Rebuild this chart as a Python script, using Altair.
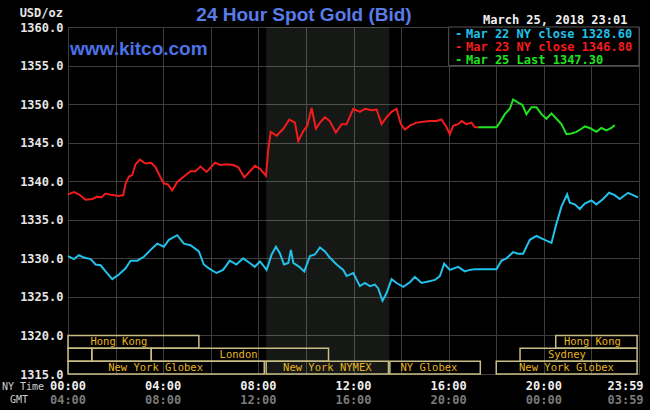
import altair as alt
import pandas as pd

# ---------------- data ----------------
cyan_hours = [0.00, 0.25, 0.46, 0.67, 0.95, 1.16, 1.37, 1.58, 1.86, 2.14, 2.42, 2.63, 2.91, 3.19, 3.47,
              3.75, 4.03, 4.24, 4.59, 4.87, 5.15, 5.50, 5.71, 5.92, 6.24, 6.52, 6.80, 7.08, 7.36, 7.64,
              7.85, 8.07, 8.35, 8.56, 8.74, 8.90, 9.08, 9.26, 9.37, 9.47, 9.72, 9.93, 10.17, 10.38, 10.59,
              10.80, 11.00, 11.29, 11.57, 11.71, 11.99, 12.27, 12.48, 12.69, 12.90, 13.04, 13.22, 13.39,
              13.60, 13.81, 14.09, 14.37, 14.58, 14.86, 15.14, 15.42, 15.63, 15.81, 16.05, 16.40, 16.68,
              16.89, 17.10, 18.01, 18.22, 18.43, 18.71, 18.92, 19.13, 19.41, 19.69, 19.97, 20.32, 20.53,
              20.74, 20.98, 21.09, 21.30, 21.51, 21.72, 22.00, 22.21, 22.49, 22.74, 22.98, 23.19, 23.54,
              23.75, 23.96]
cyan_prices = [1330.3, 1329.9, 1330.4, 1330.1, 1329.9, 1329.2, 1329.1, 1328.3, 1327.3, 1327.9, 1328.7,
               1329.7, 1329.7, 1330.2, 1331.1, 1331.9, 1331.5, 1332.4, 1333.0, 1331.9, 1331.7, 1330.9,
               1329.2, 1328.7, 1328.1, 1328.5, 1329.7, 1329.2, 1330.0, 1329.4, 1328.9, 1329.6, 1328.5,
               1330.5, 1331.5, 1330.7, 1329.2, 1329.4, 1331.1, 1329.4, 1328.9, 1328.3, 1330.3, 1330.5,
               1331.4, 1330.9, 1330.1, 1329.2, 1328.5, 1327.7, 1328.1, 1326.4, 1326.8, 1326.4, 1326.6,
               1326.1, 1324.5, 1325.5, 1327.3, 1326.8, 1326.3, 1326.9, 1327.6, 1326.8, 1327.0, 1327.2,
               1327.7, 1329.3, 1328.5, 1328.9, 1328.3, 1328.5, 1328.6, 1328.6, 1329.7, 1330.0, 1330.8,
               1330.6, 1330.6, 1332.4, 1332.9, 1332.5, 1332.0, 1334.5, 1336.7, 1338.3, 1337.2, 1337.0,
               1336.4, 1337.1, 1337.5, 1337.0, 1337.7, 1338.5, 1338.2, 1337.7, 1338.5, 1338.2, 1337.9]

red_hours = [0.00, 0.25, 0.46, 0.74, 1.02, 1.23, 1.40, 1.58, 1.86, 2.14, 2.32, 2.42, 2.56, 2.70, 2.84,
             3.02, 3.26, 3.50, 3.68, 3.89, 4.03, 4.20, 4.38, 4.59, 4.87, 5.15, 5.36, 5.57, 5.83, 6.18,
             6.39, 6.67, 6.95, 7.16, 7.41, 7.65, 7.86, 8.07, 8.32, 8.42, 8.52, 8.77, 9.05, 9.30, 9.54,
             9.68, 9.89, 10.06, 10.24, 10.42, 10.59, 10.80, 11.00, 11.26, 11.50, 11.71, 11.99, 12.27,
             12.48, 12.76, 12.97, 13.18, 13.39, 13.60, 13.81, 13.99, 14.16, 14.37, 14.65, 14.93, 15.21,
             15.49, 15.70, 15.91, 16.05, 16.19, 16.40, 16.54, 16.75, 16.96, 17.10, 17.24]
red_prices = [1338.3, 1338.6, 1338.3, 1337.6, 1337.7, 1338.0, 1337.9, 1338.4, 1338.2, 1338.1, 1338.2,
              1339.7, 1340.6, 1340.8, 1342.2, 1342.8, 1342.3, 1342.4, 1341.8, 1340.5, 1339.7, 1339.6,
              1338.8, 1339.9, 1340.6, 1341.3, 1341.3, 1341.9, 1341.2, 1342.4, 1342.1, 1342.2, 1342.1,
              1341.8, 1340.5, 1341.3, 1342.0, 1341.6, 1340.7, 1344.2, 1346.4, 1345.9, 1346.8, 1348.0,
              1347.6, 1345.2, 1346.5, 1347.2, 1349.5, 1346.8, 1347.6, 1348.3, 1347.8, 1346.3, 1347.4,
              1347.4, 1349.4, 1349.0, 1349.4, 1349.2, 1349.3, 1347.4, 1348.3, 1349.0, 1349.4, 1347.4,
              1346.7, 1347.2, 1347.6, 1347.7, 1347.8, 1347.8, 1348.0, 1347.0, 1346.1, 1347.2, 1347.4,
              1347.8, 1347.4, 1347.6, 1347.0, 1347.0]

green_hours = [17.24, 18.01, 18.15, 18.36, 18.57, 18.71, 18.92, 19.10, 19.27, 19.48, 19.69, 19.90, 20.11,
               20.32, 20.53, 20.74, 20.95, 21.16, 21.37, 21.58, 21.72, 21.93, 22.21, 22.42, 22.63, 22.84,
               22.98]
green_prices = [1347.0, 1347.0, 1347.6, 1348.7, 1349.4, 1350.6, 1350.2, 1349.9, 1348.7, 1349.6, 1349.6,
                1348.7, 1348.1, 1348.8, 1348.1, 1347.4, 1346.1, 1346.2, 1346.4, 1346.8, 1347.1, 1346.9,
                1346.4, 1346.9, 1346.6, 1346.9, 1347.3]

series_keys = ["Mar 22", "Mar 23", "Mar 25"]
series_labels = ["Mar 22 NY close 1328.60", "Mar 23 NY close 1346.80", "Mar 25 Last 1347.30"]
series_colors = ["#22c0ea", "#f21c1c", "#22e022"]

# market sessions (NY time hours)
session_names = ["Hong Kong", "", "", "London", "New York Globex", "New York NYMEX", "NY Globex",
                 "New York Globex", "Sydney", "Hong Kong"]
session_start = [0.0, 0.0, 1.0, 3.5, 0.0, 8.33, 13.53, 18.0, 19.0, 20.5]
session_end = [5.5, 1.0, 3.5, 10.95, 8.25, 13.47, 17.33, 23.92, 23.92, 23.92]
session_row = [0, 1, 1, 1, 2, 2, 2, 2, 1, 0]
session_label_hour = [2.14, 0.5, 2.25, 7.17, 3.68, 10.9, 15.17, 20.95, 20.97, 22.04]

shade_start = [8.33]
shade_end = [13.5]

tick_hours = [0, 4, 8, 12, 16, 20]
ny_labels = ["00:00", "04:00", "08:00", "12:00", "16:00", "20:00"]
gmt_labels = ["04:00", "08:00", "12:00", "16:00", "20:00", "00:00"]
last_hour = [23.983]
last_ny = ["23:59"]
last_gmt = ["03:59"]

y_ticks = [1315, 1320, 1325, 1330, 1335, 1340, 1345, 1350, 1355, 1360]
x_grid = list(range(0, 25, 2))

# ---------------- build tables ----------------
rows = []
for key, hs, ps in zip(series_keys, [cyan_hours, red_hours, green_hours],
                       [cyan_prices, red_prices, green_prices]):
    for h, p in zip(hs, ps):
        rows.append({"hour": h, "price": p, "series": key})
lines_df = pd.DataFrame(rows)

sessions_df = pd.DataFrame({"name": session_names, "start": session_start, "end": session_end,
                            "row": session_row, "lh": session_label_hour})
shade_df = pd.DataFrame({"start": shade_start, "end": shade_end})
ticks_df = pd.DataFrame({"hour": tick_hours, "ny": ny_labels, "gmt": gmt_labels})
last_df = pd.DataFrame({"hour": last_hour, "ny": last_ny, "gmt": last_gmt})
legend_box_df = pd.DataFrame({"x1": [16], "x2": [24], "y1": [1360], "y2": [1355]})

W, H = 571, 347
MONO = "DejaVu Sans Mono"
GRID = "#3e3e3e"

x_scale = alt.Scale(domain=[0, 24], nice=False, zero=False)
y_scale = alt.Scale(domain=[1315, 1360], nice=False, zero=False)
x_axis = alt.Axis(values=x_grid, labels=False, ticks=False, domain=False, grid=True,
                  gridColor=GRID, gridWidth=1, title=None)
y_axis = alt.Axis(values=y_ticks, format=".1f", ticks=False, domain=False, grid=True,
                  gridColor=GRID, gridWidth=1, title=None, labelFont=MONO, labelFontWeight="bold",
                  labelFontSize=12, labelColor="#e6e6e6", labelPadding=5)

X = lambda f: alt.X(f, type="quantitative", scale=x_scale, axis=x_axis)
Y = lambda f: alt.Y(f, type="quantitative", scale=y_scale, axis=y_axis)

shade = alt.Chart(shade_df).mark_rect(fill="#e0ffe0", opacity=0.095).encode(
    x=X("start"), x2="end", y=alt.value(0), y2=alt.value(H))

lines = alt.Chart(lines_df).mark_line(strokeWidth=2).encode(
    x=X("hour"), y=Y("price"),
    color=alt.Color("series:N", scale=alt.Scale(domain=series_keys, range=series_colors), legend=None),
    order="hour:Q")

bars = alt.Chart(sessions_df).transform_calculate(
    ytop="1320 - datum.row * 5 / 3", ybot="1320 - (datum.row + 1) * 5 / 3"
).mark_rect(filled=False, stroke="#c9bd86", strokeWidth=1.5).encode(
    x=X("start"), x2="end", y=Y("ytop:Q"), y2="ybot:Q")

bar_text = alt.Chart(sessions_df).transform_calculate(
    ymid="1320 - (datum.row + 0.5) * 5 / 3"
).mark_text(font=MONO, fontSize=10.5, color="#e8b520", baseline="middle", dy=0.5).encode(
    x=X("lh"), y=Y("ymid:Q"), text="name:N")

legend_box = alt.Chart(legend_box_df).mark_rect(fill="#000000", stroke="#555555", strokeWidth=1).encode(
    x=X("x1"), x2="x2", y=Y("y1"), y2="y2")

layers = [shade, lines, bars, bar_text, legend_box]

for i, (lab, col) in enumerate(zip(series_labels, series_colors)):
    yy = 7 + i * 13
    d = pd.DataFrame({"t": [lab], "dash": ["-"]})
    layers.append(alt.Chart(d).mark_text(font=MONO, fontWeight="bold", fontSize=12, color=col,
                                         align="left", baseline="middle").encode(
        text="dash:N", x=alt.value(387), y=alt.value(yy)))
    layers.append(alt.Chart(d).mark_text(font=MONO, fontWeight="bold", fontSize=12, color=col,
                                         align="left", baseline="middle").encode(
        text="t:N", x=alt.value(398), y=alt.value(yy)))

def label_layer(text, x, y, **kw):
    d = pd.DataFrame({"t": [text]})
    return alt.Chart(d).mark_text(**kw).encode(text="t:N", x=alt.value(x), y=alt.value(y))

layers.append(label_layer("24 Hour Spot Gold (Bid)", 236, -12, font="Liberation Sans", fontSize=19,
                          fontWeight="bold", color="#5a7ce8", align="center", baseline="middle"))
layers.append(label_layer("www.kitco.com", 2, 22, font="Liberation Sans", fontSize=19,
                          fontWeight="bold", color="#4d72e6", align="left", baseline="middle"))
layers.append(label_layer("March 25, 2018 23:01", 415, -7, font=MONO, fontSize=12,
                          fontWeight="bold", color="#f0f0f0", align="left", baseline="middle"))
layers.append(label_layer("USD/oz", -5, -14, font=MONO, fontSize=12, fontWeight="bold",
                          color="#e6e6e6", align="right", baseline="middle"))
layers.append(label_layer("NY Time", -66, 360, font=MONO, fontSize=10, color="#d0d0d0",
                          align="left", baseline="middle"))
layers.append(label_layer("GMT", -49, 373, font=MONO, fontSize=10, color="#d0d0d0",
                          align="center", baseline="middle"))

layers.append(alt.Chart(ticks_df).mark_text(font=MONO, fontSize=12, fontWeight="bold", color="#eeeeee",
                                            baseline="middle").encode(
    x=X("hour"), y=alt.value(358.5), text="ny:N"))
layers.append(alt.Chart(ticks_df).mark_text(font=MONO, fontSize=12, fontWeight="bold", color="#7a7a7a",
                                            baseline="middle").encode(
    x=X("hour"), y=alt.value(372.5), text="gmt:N"))
layers.append(alt.Chart(last_df).mark_text(font=MONO, fontSize=12, fontWeight="bold", color="#eeeeee",
                                           align="right", baseline="middle", dx=5).encode(
    x=X("hour"), y=alt.value(358.5), text="ny:N"))
layers.append(alt.Chart(last_df).mark_text(font=MONO, fontSize=12, fontWeight="bold", color="#7a7a7a",
                                           align="right", baseline="middle", dx=5).encode(
    x=X("hour"), y=alt.value(372.5), text="gmt:N"))

chart = alt.layer(*layers).properties(
    width=W, height=H,
    autosize=alt.AutoSizeParams(type="none"),
    padding={"left": 68, "top": 27, "right": 11, "bottom": 36},
    background="#000000",
).configure_view(stroke="#555555", strokeWidth=1)

chart.save("out.html", embed_options={"renderer": "svg", "actions": False})
